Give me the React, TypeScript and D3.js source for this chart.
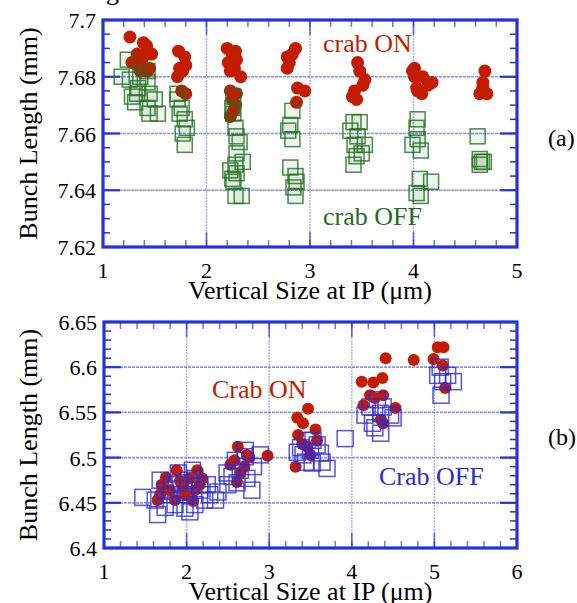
import React from "react";
import * as d3 from "d3";

const FRAME = "#2233dd";
const GRID = "#6b78e6";
const RED = "#c41c00";
const GREEN = "#1f6e1f";
const BLUE = "#2b2bd8";
const SERIF = "'Liberation Serif', 'Times New Roman', serif";

type Pt = [number, number];

// panel (a) axes
const topXTicks = [1, 2, 3, 4, 5];
const topYTicks = [7.62, 7.64, 7.66, 7.68, 7.7];
const topYLabels = ["7.62", "7.64", "7.66", "7.68", "7.7"];

// panel (b) axes
const bottomXTicks = [1, 2, 3, 4, 5, 6];
const bottomYTicks = [6.4, 6.45, 6.5, 6.55, 6.6, 6.65];
const bottomYLabels = ["6.4", "6.45", "6.5", "6.55", "6.6", "6.65"];

// (a) crab ON - red circles
const topCrabOn: Pt[] = [
  [1.26, 7.694], [1.39, 7.692], [1.42, 7.691], [1.43, 7.689], [1.47, 7.688], [1.33, 7.688],
  [1.39, 7.687], [1.28, 7.685], [1.36, 7.684], [1.45, 7.683], [1.43, 7.682], [1.36, 7.682],
  [1.73, 7.689], [1.79, 7.687], [1.80, 7.684], [1.74, 7.683], [1.77, 7.682], [1.72, 7.680],
  [1.76, 7.675], [1.80, 7.674],
  [2.20, 7.690], [2.28, 7.689], [2.25, 7.688], [2.29, 7.686], [2.21, 7.685], [2.27, 7.683],
  [2.23, 7.682], [2.33, 7.680], [2.23, 7.675], [2.29, 7.674], [2.25, 7.672], [2.28, 7.670],
  [2.26, 7.668], [2.23, 7.666],
  [2.86, 7.690], [2.83, 7.688], [2.78, 7.687], [2.80, 7.685], [2.78, 7.683], [2.88, 7.676],
  [2.95, 7.675], [2.87, 7.671],
  [3.46, 7.685], [3.48, 7.682], [3.53, 7.679], [3.51, 7.677], [3.43, 7.675], [3.41, 7.673],
  [3.45, 7.672],
  [4.01, 7.683], [3.99, 7.682], [4.09, 7.680], [4.01, 7.680], [4.18, 7.678], [4.14, 7.677],
  [4.03, 7.676], [4.04, 7.675], [4.08, 7.674],
  [4.69, 7.682], [4.67, 7.678], [4.67, 7.676], [4.64, 7.674], [4.71, 7.674],
];

// (a) crab OFF - green squares
const topCrabOff: Pt[] = [
  [1.24, 7.686], [1.18, 7.680], [1.26, 7.679], [1.34, 7.676], [1.28, 7.673], [1.31, 7.671],
  [1.43, 7.682], [1.43, 7.678], [1.45, 7.674], [1.43, 7.669], [1.53, 7.667], [1.45, 7.667],
  [1.36, 7.680], [1.33, 7.674], [1.50, 7.672],
  [1.72, 7.674], [1.72, 7.672], [1.76, 7.669], [1.74, 7.667], [1.79, 7.665], [1.81, 7.662],
  [1.77, 7.660], [1.79, 7.656],
  [2.26, 7.673], [2.25, 7.669], [2.26, 7.667], [2.28, 7.662], [2.29, 7.659], [2.32, 7.657],
  [2.29, 7.653], [2.35, 7.650], [2.28, 7.649], [2.29, 7.646], [2.25, 7.644], [2.26, 7.643],
  [2.28, 7.638], [2.34, 7.638], [2.23, 7.647],
  [2.83, 7.668], [2.81, 7.663], [2.79, 7.661], [2.83, 7.658], [2.81, 7.648], [2.86, 7.645],
  [2.87, 7.643], [2.84, 7.641], [2.86, 7.638],
  [3.42, 7.664], [3.48, 7.664], [3.39, 7.661], [3.46, 7.659], [3.43, 7.656], [3.53, 7.656],
  [3.50, 7.653], [3.45, 7.652], [3.42, 7.649],
  [4.04, 7.665], [4.03, 7.662], [4.04, 7.658], [3.99, 7.656], [4.07, 7.654], [4.06, 7.644],
  [4.17, 7.643], [4.03, 7.639], [4.07, 7.638],
  [4.62, 7.659], [4.64, 7.651], [4.66, 7.650], [4.64, 7.649], [4.68, 7.650],
];

// (b) Crab ON - red circles
const bottomCrabOn: Pt[] = [
  [1.70, 6.470], [1.88, 6.486], [2.13, 6.486], [2.19, 6.477], [2.04, 6.477], [1.68, 6.459],
  [1.96, 6.467], [1.80, 6.464], [1.98, 6.459], [2.10, 6.464], [1.65, 6.453], [1.86, 6.453],
  [1.75, 6.478], [1.92, 6.474], [2.16, 6.470], [2.08, 6.452],
  [2.62, 6.512], [2.53, 6.492], [2.73, 6.503], [2.76, 6.500], [2.98, 6.502], [2.65, 6.483],
  [2.61, 6.473], [2.70, 6.490], [2.58, 6.497],
  [3.47, 6.554], [3.34, 6.544], [3.41, 6.538], [3.35, 6.525], [3.56, 6.531], [3.58, 6.519],
  [3.46, 6.512], [3.32, 6.490], [3.50, 6.503], [3.40, 6.515],
  [4.12, 6.584], [4.26, 6.583], [4.37, 6.588], [4.22, 6.569], [4.38, 6.569], [4.14, 6.558],
  [4.53, 6.555], [4.35, 6.542], [4.38, 6.538], [4.28, 6.566], [4.41, 6.610],
  [4.75, 6.608], [4.99, 6.609], [5.04, 6.622], [5.11, 6.622], [5.10, 6.602], [5.13, 6.577],
];

// (b) Crab OFF - blue squares
const bottomCrabOff: Pt[] = [
  [1.47, 6.456], [1.65, 6.437], [1.74, 6.464], [1.82, 6.470], [1.92, 6.472], [2.02, 6.475],
  [2.10, 6.477], [2.16, 6.464], [2.28, 6.459], [1.86, 6.448], [1.98, 6.444], [2.10, 6.448],
  [2.22, 6.453], [2.35, 6.453], [1.80, 6.459], [1.68, 6.475], [1.90, 6.483], [2.07, 6.486],
  [2.16, 6.470], [1.74, 6.445], [1.98, 6.459], [2.25, 6.470], [2.38, 6.462], [2.04, 6.440],
  [1.62, 6.453],
  [2.49, 6.483], [2.50, 6.470], [2.59, 6.497], [2.71, 6.501], [2.81, 6.490], [2.79, 6.464],
  [2.61, 6.472], [2.65, 6.486], [2.73, 6.477], [2.71, 6.508], [2.89, 6.503], [2.55, 6.479],
  [3.34, 6.506], [3.46, 6.519], [3.53, 6.519], [3.50, 6.508], [3.62, 6.505], [3.52, 6.494],
  [3.70, 6.488], [3.41, 6.503], [3.38, 6.511], [3.58, 6.514], [3.92, 6.521], [3.44, 6.495],
  [3.64, 6.495],
  [4.31, 6.564], [4.22, 6.556], [4.38, 6.556], [4.35, 6.549], [4.47, 6.547], [4.50, 6.544],
  [4.25, 6.538], [4.35, 6.527], [4.28, 6.533], [4.16, 6.547],
  [5.07, 6.600], [5.04, 6.591], [5.16, 6.591], [5.23, 6.584], [5.08, 6.569], [5.10, 6.584],
];

function Panel(props: any) {
  const { box, xDomain, yDomain, xTicks, yTicks, yLabels, xMinor, yMinor,
    circles, squares, squareColor, squareFill, r, side, label, labelY } = props;
  const x = d3.scaleLinear().domain(xDomain).range([box.left, box.right]);
  const y = d3.scaleLinear().domain(yDomain).range([box.bottom, box.top]);
  const xm = d3.range(xDomain[0], xDomain[1] + 1e-9, xMinor);
  const ym = d3.range(yDomain[0], yDomain[1] + 1e-9, yMinor);
  const innerX = xTicks.slice(1, -1);
  const innerY = yTicks.slice(1, -1);

  return (
    <g>
      {/* grid */}
      {innerX.map((t: number) => (
        <line key={"gx" + t} x1={x(t)} x2={x(t)} y1={box.top} y2={box.bottom}
          stroke={GRID} strokeWidth={1.4} strokeOpacity={0.6} strokeDasharray="2,1" />
      ))}
      {innerY.map((t: number) => (
        <line key={"gy" + t} x1={box.left} x2={box.right} y1={y(t)} y2={y(t)}
          stroke={GRID} strokeWidth={1.7} strokeOpacity={0.8} strokeDasharray="3,1" />
      ))}
      {/* minor ticks */}
      {xm.map((t, i) => (
        <g key={"xm" + i}>
          <line x1={x(t)} x2={x(t)} y1={box.top} y2={box.top + 7} stroke={GRID} strokeWidth={1.5} />
          <line x1={x(t)} x2={x(t)} y1={box.bottom} y2={box.bottom - 7} stroke={GRID} strokeWidth={1.5} />
        </g>
      ))}
      {ym.map((t, i) => (
        <g key={"ym" + i}>
          <line x1={box.left} x2={box.left + 7} y1={y(t)} y2={y(t)} stroke={FRAME} strokeWidth={1.5} />
          <line x1={box.right} x2={box.right - 7} y1={y(t)} y2={y(t)} stroke={FRAME} strokeWidth={1.5} />
        </g>
      ))}
      {/* major ticks */}
      {xTicks.map((t: number) => (
        <g key={"xM" + t}>
          <line x1={x(t)} x2={x(t)} y1={box.top} y2={box.top + 15} stroke={FRAME} strokeWidth={1.6} strokeOpacity={0.7} />
          <line x1={x(t)} x2={x(t)} y1={box.bottom} y2={box.bottom - 15} stroke={FRAME} strokeWidth={1.6} strokeOpacity={0.7} />
        </g>
      ))}
      {yTicks.map((t: number) => (
        <g key={"yM" + t}>
          <line x1={box.left} x2={box.left + 17} y1={y(t)} y2={y(t)} stroke={FRAME} strokeWidth={2.2} />
          <line x1={box.right} x2={box.right - 17} y1={y(t)} y2={y(t)} stroke={FRAME} strokeWidth={2.2} />
        </g>
      ))}
      {/* data */}
      {circles.map((d: Pt, i: number) => (
        <circle key={"c" + i} cx={x(d[0])} cy={y(d[1])} r={r} fill={RED} />
      ))}
      {squares.map((d: Pt, i: number) => (
        <rect key={"s" + i} x={x(d[0]) - side / 2} y={y(d[1]) - side / 2} width={side} height={side}
          fill={squareFill} fillOpacity={0.07} stroke={squareColor} strokeWidth={1.5} strokeOpacity={0.8} />
      ))}
      {/* frame */}
      <rect x={box.left} y={box.top} width={box.right - box.left} height={box.bottom - box.top}
        fill="none" stroke={FRAME} strokeWidth={3.2} />
      {/* tick labels */}
      {xTicks.map((t: number) => (
        <text key={"xl" + t} x={x(t)} y={box.bottom + 31} textAnchor="middle" fontSize={22}>{t}</text>
      ))}
      {yTicks.map((t: number, i: number) => (
        <text key={"yl" + t} x={box.left - 7} y={y(t) + 8} textAnchor="end" fontSize={22}>{yLabels[i]}</text>
      ))}
      <text x={(box.left + box.right) / 2} y={box.bottom + 52} textAnchor="middle" fontSize={26}>
        Vertical Size at IP (μm)
      </text>
      <text transform={`translate(37,${(box.top + box.bottom) / 2}) rotate(-90)`} textAnchor="middle" fontSize={26}>
        Bunch Length (mm)
      </text>
      <text x={548} y={labelY} fontSize={24}>{label}</text>
    </g>
  );
}

export default function App() {
  return (
    <svg width={577} height={603} style={{ position: "absolute", left: 0, top: 0, background: "#fff" }}
      fontFamily={SERIF}>
      <text x={106} y={0} fontSize={26}>g</text>
      <Panel
        box={{ left: 103, right: 517, top: 20, bottom: 247 }}
        xDomain={[1, 5]} yDomain={[7.62, 7.7]}
        xTicks={topXTicks} yTicks={topYTicks} yLabels={topYLabels}
        xMinor={0.2} yMinor={0.005}
        circles={topCrabOn} squares={topCrabOff}
        squareColor={GREEN} squareFill={GREEN} r={6.5} side={15}
        label="(a)" labelY={146}
      />
      <text x={323} y={52} fontSize={26} fill={RED}>crab ON</text>
      <text x={323} y={225} fontSize={26} fill={GREEN}>crab OFF</text>
      <Panel
        box={{ left: 104, right: 517, top: 322, bottom: 548 }}
        xDomain={[1, 6]} yDomain={[6.4, 6.65]}
        xTicks={bottomXTicks} yTicks={bottomYTicks} yLabels={bottomYLabels}
        xMinor={0.2} yMinor={0.01}
        circles={bottomCrabOn} squares={bottomCrabOff}
        squareColor={BLUE} squareFill="none" r={6} side={16}
        label="(b)" labelY={445}
      />
      <text x={212} y={398} fontSize={26} fill={RED}>Crab ON</text>
      <text x={379} y={485} fontSize={26} fill={BLUE}>Crab OFF</text>
    </svg>
  );
}
